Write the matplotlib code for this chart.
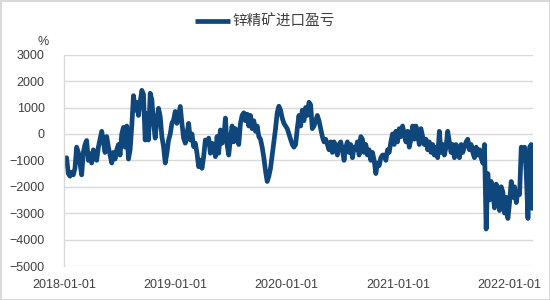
import matplotlib
matplotlib.use("Agg")
import matplotlib.pyplot as plt
import pandas as pd

series_name = "锌精矿进口盈亏"
unit_label = "%"
start_date = "2018-01-04"
end_date = "2022-03-20"

vals_a = [-1200, -900, -1500, -1600, -1450, -1550, -1300, -500, -700, -1100,
          -1550, -700, -400, -250, -1000, -750, -1100, -600, -900, -1000,
          -500, -200, 100, -300, -700, -100, -500, -800, -1100, -700,
          -950, -600, -400, -800, 0, 250, -500, 300, -950, -600,
          300, 1450, 900, 1200, 700]
vals_b = [1200, 1650, 1500, -230, 780, -230, 1540, 1300, 400, -160,
          530, 970, 660, -100, -480, -1100, -730, -230, 0, 400,
          530, 850, 400, 720, 1040, 400, -160, -350, 0, 400,
          -230, 0, -480, -350, -730, -1240, -990, -1300, -860, -230,
          -350, -160, -730, -350, -480, -860, -100, -730, 150, -350]
vals_c = [-200, 600, -400, -800, -200, 300, -300, 200, -100, -400,
          400, 700, 800, 500, 750, 300, 700, 200, 500, 100,
          300, -100, -200, -500, -900, -1400, -1800, -1600, -1300, -800,
          -300, 200, 800, 1050, 900, 600, 400, 300, 200, 0,
          -200, -400, -500, -400, 200, 700, 300, 900]
vals_d = [500, 1000, 700, 1200, 1100, 200, 300, 500, 700, 500,
          200, -100, -300, -200, -400, -600, -300, -700, -300, -500,
          -800, -400, -300, -600, -1000, -500, -300, -700, -400, -900,
          -500, -600, -300, -800, -100, -200, -700, -400, -800, -600,
          -1000, -700, -1000, -1500, -1100, -1200, -900, -800]
vals_e = [-800, -1000, -600, -700, -300, 0, -400, 100, -300, 200,
          -100, 300, 0, -300, 100, -500, -200, 300, -200, 300,
          0, -400, 200, -100, -400, -200, -600, -300, -700, -400,
          -800, -500, -900, 100, -700, -400, -800, -500, 100, -300,
          -700, -400, -900, -400, -600, -900, -400, -700]
vals_f = [-500, -300, -200, -600, -400, -700, -900, -500, -800, -600,
          -900, -1100, -400, -3600, -1500, -2500, -1800, -2200, -2800, -1900,
          -2100, -2900, -2000, -2200, -3000, -2400, -3200, -2600, -1800, -2400,
          -2000, -2600, -2200, -2300, -500, -1000, -500, -1500, -3200, -500,
          -400, -2900]

values = vals_a + vals_b + vals_c + vals_d + vals_e + vals_f
dates = pd.date_range(start_date, end_date, periods=len(values))

y_ticks = [3000, 2000, 1000, 0, -1000, -2000, -3000, -4000, -5000]
x_ticks = ["2018-01-01", "2019-01-01", "2020-01-01", "2021-01-01", "2022-01-01"]

plt.rcParams['font.family'] = ['Liberation Sans', 'Noto Sans CJK SC', 'DejaVu Sans']

fig = plt.figure(figsize=(5.5, 3.0), dpi=100)
fig.patch.set_facecolor("white")
fig.patch.set_edgecolor("#d9d9d9")
fig.patch.set_linewidth(1.0)
ax = fig.add_axes([0.1164, 0.1133, 0.969 - 0.1164, 0.8177 - 0.1133])

line, = ax.plot(dates, values, color="#0f477c", linewidth=3.4, solid_joinstyle="round",
                solid_capstyle="butt", label=series_name)

ax.set_ylim(-5000, 3000)
ax.set_yticks(y_ticks)
ax.set_xlim(pd.Timestamp("2018-01-01"), pd.Timestamp(end_date))
ax.set_xticks([pd.Timestamp(t) for t in x_ticks])
ax.set_xticklabels(x_ticks)

ax.grid(axis="y", color="#d9d9d9", linewidth=1.0)
ax.set_axisbelow(True)
for s in ["top", "right", "bottom"]:
    ax.spines[s].set_visible(False)
ax.spines["left"].set_color("#d9d9d9")
ax.spines["left"].set_linewidth(1.0)
ax.tick_params(axis="both", length=0, labelsize=9, colors="#404040")
ax.tick_params(axis="y", pad=14)
ax.tick_params(axis="x", pad=9)

fig.text(49 / 550, 1 - 42 / 300, unit_label, ha="right", va="center", fontsize=9, color="#404040")

leg = fig.legend(handles=[line], loc="center", bbox_to_anchor=(265 / 550, 1 - 22 / 300),
                 frameon=False, handlelength=2.4, handletextpad=0.2,
                 prop={'family': ['Noto Sans CJK SC', 'DejaVu Sans'], 'size': 10.5})
for t in leg.get_texts():
    t.set_color("#404040")

fig.savefig("out.png", dpi=100, facecolor=fig.get_facecolor(), edgecolor=fig.get_edgecolor())
